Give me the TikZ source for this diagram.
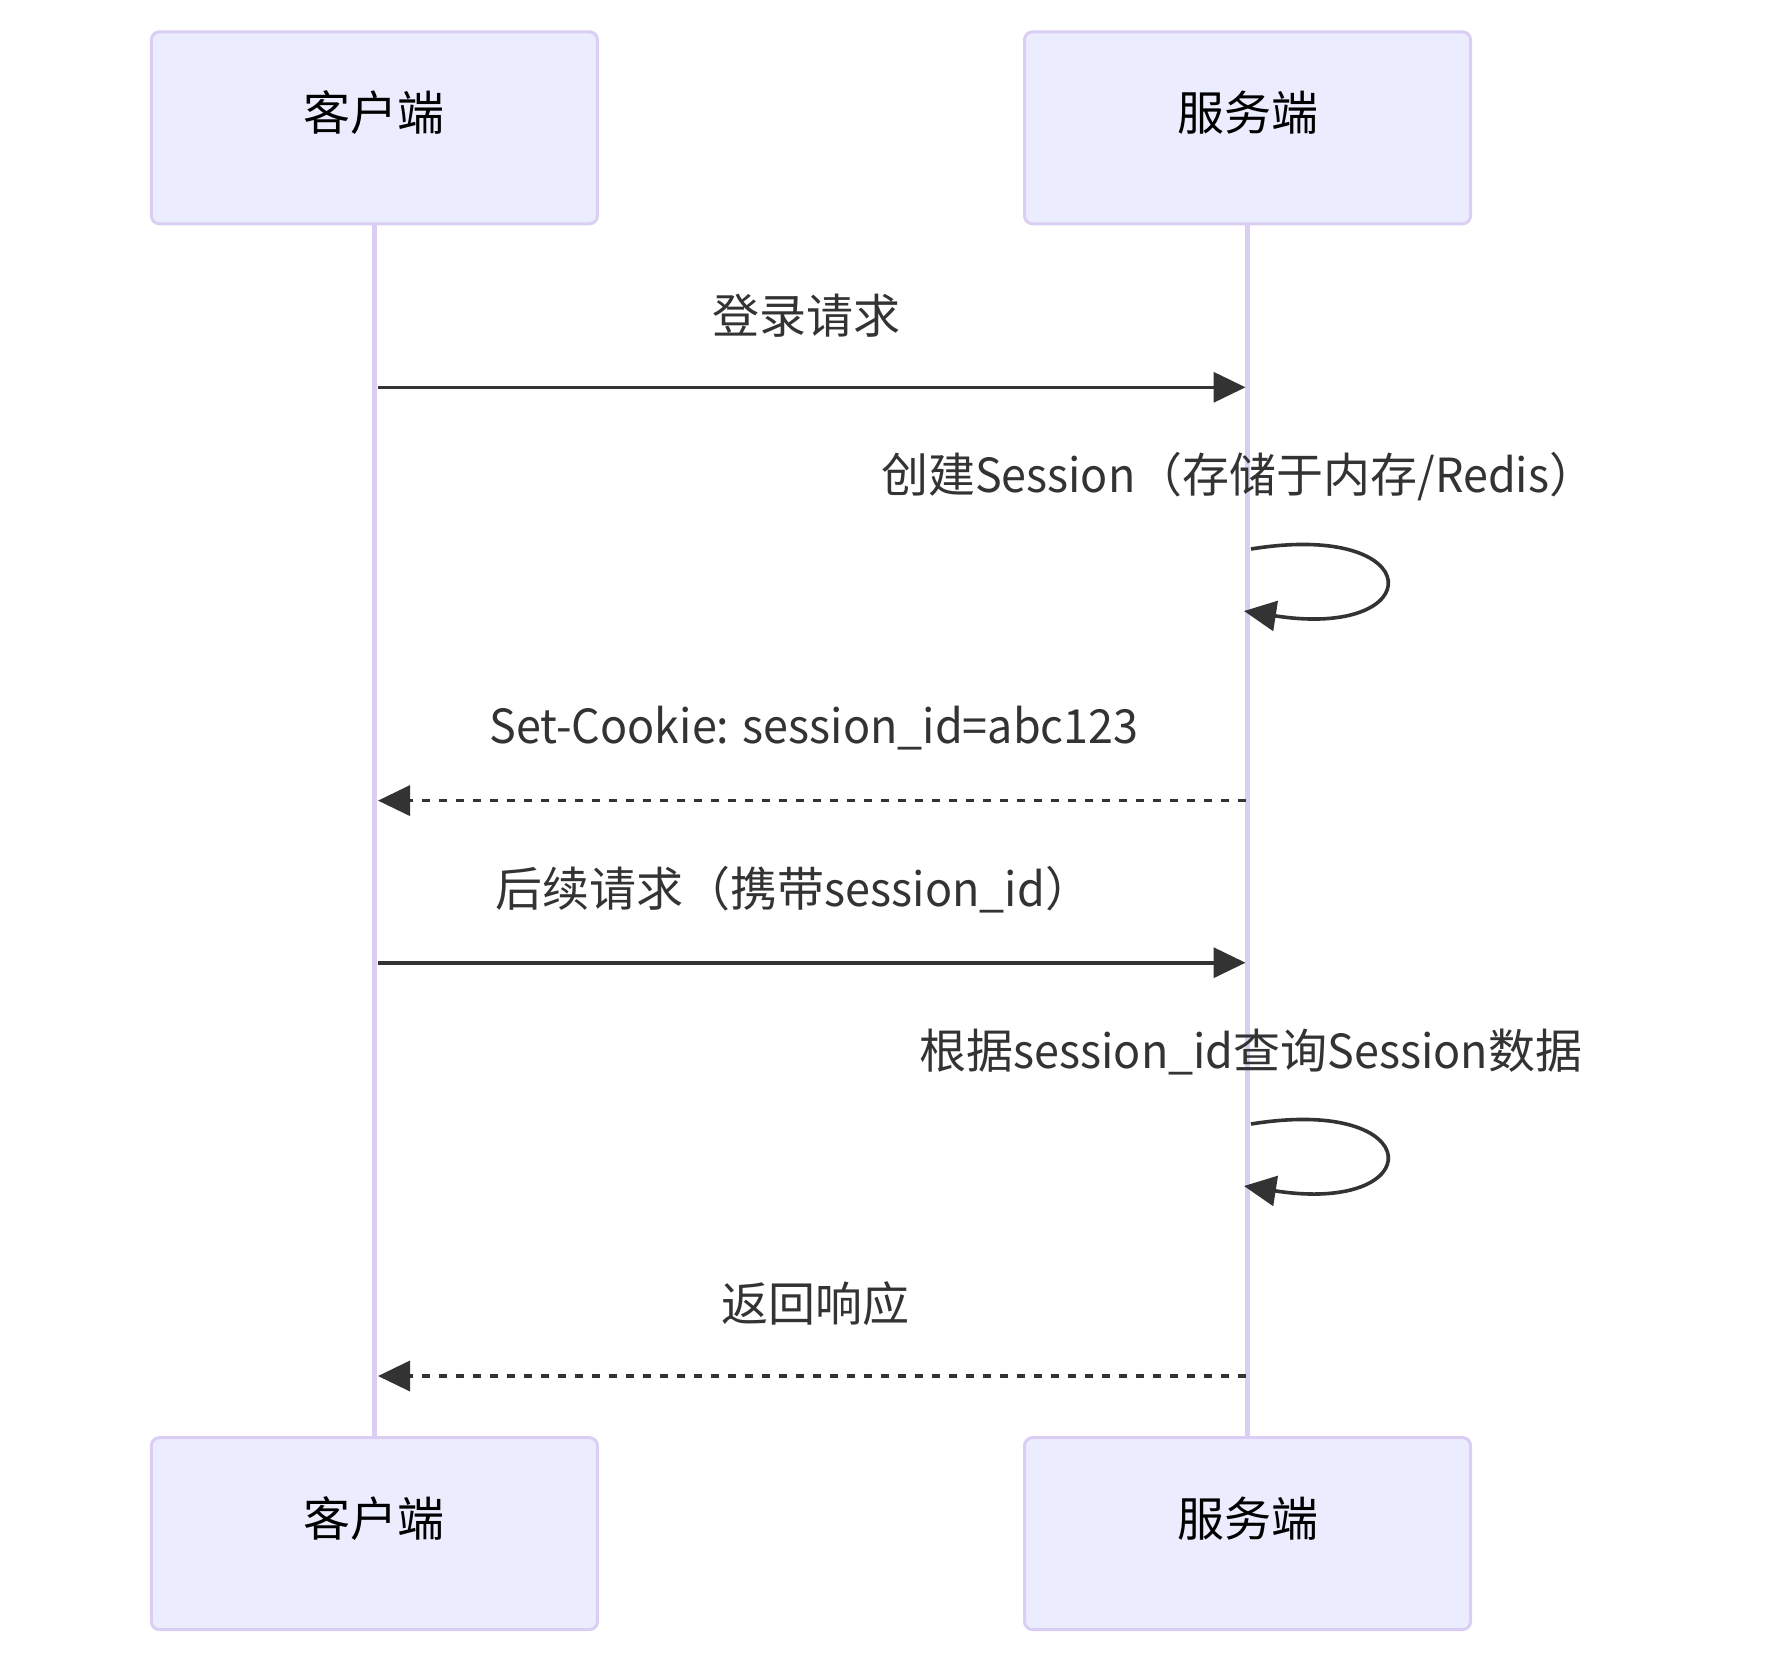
\documentclass[tikz,border=0pt]{standalone}
\usepackage{fontspec}
\setmainfont{Noto Sans CJK SC}
\newfontfamily\latn[FakeStretch=0.955]{Noto Sans CJK SC}
\usetikzlibrary{arrows.meta}
\definecolor{actfill}{HTML}{ECECFF}
\definecolor{actline}{HTML}{DACEF3}
\definecolor{msgcol}{HTML}{333333}
\tikzset{
  actor/.style={draw=actline, fill=actfill, line width=1.5pt, rounded corners=4pt,
    minimum width=223pt, minimum height=96pt, font=\fontsize{23.5}{28}\selectfont, text=black, inner sep=0pt,
    text height=20.7pt, text depth=17.8pt},
  lifeline/.style={draw=actline, line width=2.5pt},
  msg/.style={draw=msgcol, line width=1.8pt, -{Triangle[length=16pt,width=15pt]}},
  reply/.style={msg, dash pattern=on 4pt off 4.5pt},
  lbl/.style={text=msgcol, font=\fontsize{23.5}{28}\selectfont, inner sep=0pt}
}
\begin{document}
\begin{tikzpicture}[x=0.5pt,y=-0.5pt]
\useasboundingbox (0,0) rectangle (1765,1665);
\node[actor] (c1) at (374.4,127.8) {客户端};
\node[actor] (s1) at (1247.5,127.8) {服务端};
\node[actor] (c2) at (374.4,1533.6) {客户端};
\node[actor] (s2) at (1247.5,1533.6) {服务端};
\draw[lifeline] (c1.south) -- (c2.north);
\draw[lifeline] (s1.south) -- (s2.north);
% message 1
\coordinate (a1) at (378,387.3); \coordinate (b1) at (1245.5,387.3);
\node[lbl] (t1) at (806,315.3) {登录请求};
\draw[msg] (a1) -- (b1);
% self 1
\node[lbl] (t2) at (1238.6,476.3) {创建{\latn Session}（存储于内存{\latn /Redis}）};
\coordinate (l1s) at (1251,549); \coordinate (l1e) at (1244,611);
\draw[msg] (l1s) .. controls (1430,520) and (1430,640) .. (l1e);
% reply 1
\node[lbl] (t3) at (814,728.5) {\latn Set-Cookie: session\_id=abc123};
\coordinate (a3) at (1245.5,800.6); \coordinate (b3) at (378,800.6);
\draw[reply] (a3) -- (b3);
% message 2
\node[lbl] (t4) at (794,889.5) {后续请求（携带{\latn session\_id}）};
\coordinate (a4) at (378,962.7); \coordinate (b4) at (1245.5,962.7);
\draw[msg] (a4) -- (b4);
% self 2
\node[lbl] (t5) at (1251,1051.7) {根据{\latn session\_id}查询{\latn Session}数据};
\coordinate (l2s) at (1251,1124); \coordinate (l2e) at (1244,1186);
\draw[msg] (l2s) .. controls (1430,1095) and (1430,1215) .. (l2e);
% reply 2
\node[lbl] (t6) at (815,1303.9) {返回响应};
\coordinate (a6) at (1245.5,1376); \coordinate (b6) at (378,1376);
\draw[reply] (a6) -- (b6);
\end{tikzpicture}
\end{document}
